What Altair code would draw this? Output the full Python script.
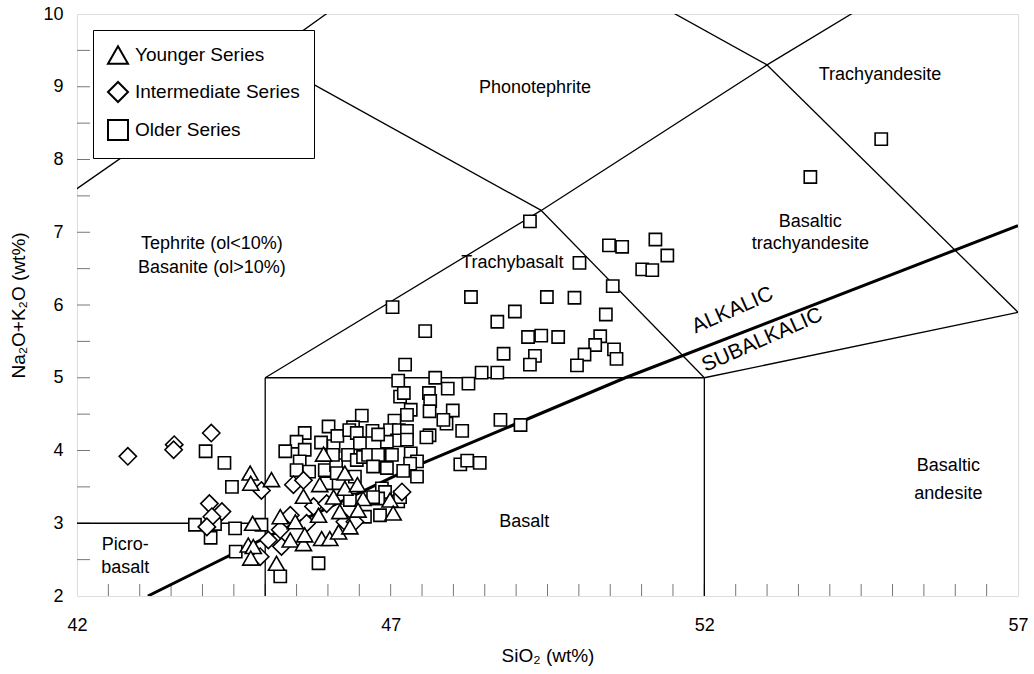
import altair as alt
import pandas as pd

FONT = "Liberation Sans"

# ---------------- sample data (SiO2 wt%, Na2O+K2O wt%) ----------------
older_sio2 = [
    54.82, 53.69, 49.22, 50.48, 50.69, 51.22, 51.41, 51.01, 51.17, 50.01, 50.54,
    47.03, 48.28, 49.49, 49.93, 48.98, 48.70, 50.43, 47.55, 49.19, 49.40, 49.67,
    50.34, 50.26, 50.09, 49.97, 50.56, 50.60, 48.80, 49.30, 49.22, 47.23, 47.12,
    47.71, 48.45, 48.70, 48.24, 47.91, 47.15, 47.21, 47.61, 47.63, 47.99, 47.62,
    47.32, 47.26, 47.89, 47.84, 48.14, 48.75, 49.07, 47.62, 47.57, 47.06, 46.99,
    47.13, 47.26, 47.10, 47.26, 46.94, 47.02, 47.32, 47.42, 47.31, 46.94, 47.20,
    48.11, 48.22, 48.42, 47.42,
    46.54, 46.01, 46.40, 45.63, 45.50, 45.32, 45.63, 45.89, 46.09, 46.15, 46.34,
    46.46, 46.51, 46.71, 46.80, 45.55, 45.50, 45.70, 45.95, 46.13, 46.08, 46.32,
    46.46, 46.56, 46.64, 46.80, 46.72, 45.98, 46.17, 46.43, 46.14, 46.86, 46.91,
    46.80, 47.12, 47.15, 46.83, 46.35, 46.59, 46.72, 45.85, 45.24,
    44.05, 44.35, 44.47, 43.88, 44.20, 44.52, 44.13, 44.53, 44.94,
]
older_alk = [
    8.28, 7.76, 7.15, 6.82, 6.80, 6.90, 6.68, 6.49, 6.48, 6.58, 6.26,
    5.97, 6.11, 6.11, 6.10, 5.91, 5.77, 5.87, 5.64, 5.56, 5.58, 5.56,
    5.57, 5.45, 5.32, 5.17, 5.39, 5.26, 5.33, 5.30, 5.18, 5.18, 4.96,
    5.00, 5.07, 5.07, 4.92, 4.85, 4.74, 4.79, 4.79, 4.68, 4.55, 4.54,
    4.56, 4.49, 4.37, 4.42, 4.27, 4.42, 4.35, 4.21, 4.18, 4.41, 4.28,
    4.28, 4.27, 4.14, 4.15, 4.12, 3.94, 3.96, 3.85, 3.82, 3.76, 3.72,
    3.81, 3.86, 3.83, 3.64,
    4.48, 4.33, 4.32, 4.24, 4.12, 3.99, 4.01, 4.11, 4.06, 4.20, 4.28,
    4.24, 4.10, 4.27, 4.22, 3.85, 3.73, 3.71, 3.73, 3.80, 3.94, 3.94,
    3.87, 3.91, 3.94, 3.94, 3.78, 3.55, 3.55, 3.64, 3.69, 3.48, 3.43,
    3.34, 3.30, 3.36, 3.11, 3.32, 3.09, 3.36, 2.45, 2.27,
    3.99, 3.83, 3.50, 2.98, 2.99, 2.93, 2.80, 2.61, 2.98,
]

inter_sio2 = [42.81, 43.55, 43.54, 44.14, 44.11, 44.31, 44.15, 44.07, 44.94, 45.45,
              44.92, 45.05, 45.61, 45.77, 47.18, 45.24, 45.26, 45.66, 46.27, 46.43,
              45.40, 45.98]
inter_alk = [3.92, 4.08, 4.01, 4.24, 3.27, 3.16, 3.09, 2.95, 3.45, 3.53,
             2.54, 2.77, 3.59, 3.23, 3.43, 2.91, 2.68, 3.00, 3.02, 3.02,
             3.11, 3.27]

young_sio2 = [44.76, 44.77, 45.10, 44.80, 44.73, 44.81, 44.77, 45.18, 45.93, 45.61,
              46.27, 45.87, 46.09, 46.27, 46.47, 46.56, 46.19, 46.48, 45.85, 46.99,
              47.04, 45.24, 45.48, 45.40, 45.61, 45.90, 46.03, 46.17, 46.35, 45.63]
young_alk = [3.69, 3.55, 3.60, 3.00, 2.70, 2.68, 2.52, 2.45, 3.95, 3.37,
             3.69, 3.53, 3.36, 3.48, 3.53, 3.34, 3.16, 3.18, 3.11, 3.32,
             3.14, 3.09, 3.02, 2.77, 2.72, 2.79, 2.79, 2.88, 2.95, 2.84]

series_names = ["Younger Series", "Intermediate Series", "Older Series"]
series_shapes = ["triangle-up", "diamond", "square"]
series_colors = ["black", "black", "black"]

# ---------------- TAS field boundaries ----------------
bnd_seg = ["a", "a", "b", "b", "c", "c", "d", "d", "e", "e",
           "f", "f", "f", "f", "g", "g", "h", "h", "i", "i", "i",
           "j", "j", "k", "k"]
bnd_x = [41, 45, 45, 45, 45, 52, 52, 52, 52, 57,
         45, 49.4, 53, 57.6, 49.4, 52, 53, 57, 41, 45, 48.4,
         45, 49.4, 48.4, 53]
bnd_y = [3, 3, 0, 5, 5, 5, 0, 5, 5, 5.9,
         5, 7.3, 9.3, 11.7, 7.3, 5, 9.3, 5.9, 7, 9.4, 11.5,
         9.4, 7.3, 11.5, 9.3]

# alkalic / subalkalic divide
alk_x = [43.13, 45.0, 47.36, 50.74, 57.0]
alk_y = [2.0, 2.8, 3.77, 5.0, 7.09]

# field names
lab_text = ["Phonotephrite", "Trachyandesite", "Basaltic", "trachyandesite",
            "Tephrite (ol<10%)", "Basanite (ol>10%)", "Trachybasalt", "Basalt",
            "Basaltic", "andesite", "Picro-", "basalt"]
lab_x = [49.30, 54.80, 53.69, 53.69, 44.15, 44.15, 48.94, 49.13, 55.89, 55.89, 42.77, 42.77]
lab_y = [8.98, 9.16, 7.14, 6.84, 6.84, 6.51, 6.58, 3.02, 3.79, 3.40, 2.70, 2.38]

div_text = ["ALKALIC", "SUBALKALIC"]
div_x = [52.49, 52.96]
div_y = [5.85, 5.44]

# inner minor ticks and axis labels
x_ticks = [42.5, 43, 43.5, 44, 44.5, 45, 45.5, 46, 46.5, 47, 47.5, 48, 48.5, 49, 49.5,
           50, 50.5, 51, 51.5, 52, 52.5, 53, 53.5, 54, 54.5, 55, 55.5, 56, 56.5]
y_ticks = [2.5, 3, 3.5, 4, 4.5, 5, 5.5, 6, 6.5, 7, 7.5, 8, 8.5, 9, 9.5]
x_labels = [42, 47, 52, 57]
y_labels = [2, 3, 4, 5, 6, 7, 8, 9, 10]

# ---------------- tables ----------------
older = pd.DataFrame({"x": older_sio2, "y": older_alk, "series": "Older Series"})
inter = pd.DataFrame({"x": inter_sio2, "y": inter_alk, "series": "Intermediate Series"})
young = pd.DataFrame({"x": young_sio2, "y": young_alk, "series": "Younger Series"})
bnd = pd.DataFrame({"seg": bnd_seg, "x": bnd_x, "y": bnd_y})
bnd["o"] = range(len(bnd))
alk = pd.DataFrame({"x": alk_x, "y": alk_y})
labs = pd.DataFrame({"text": lab_text, "x": lab_x, "y": lab_y})
divs = pd.DataFrame({"text": div_text, "x": div_x, "y": div_y})
xt = pd.DataFrame({"x": x_ticks})
yt = pd.DataFrame({"y": y_ticks})

W, H = 941, 582
xs = alt.Scale(domain=[42, 57], nice=False, zero=False)
ys = alt.Scale(domain=[2, 10], nice=False, zero=False)
xaxis = alt.Axis(values=x_labels, ticks=False, domain=False, grid=False, labelFlush=False,
                 labelFontSize=18, labelPadding=20, labelFont=FONT, labelColor="black",
                 title="SiO₂ (wt%)", titleFont=FONT, titleFontSize=19,
                 titleFontWeight="normal", titleColor="black", titlePadding=12)
yaxis = alt.Axis(values=y_labels, ticks=False, domain=False, grid=False, labelFlush=False,
                 labelFontSize=18, labelPadding=14, labelFont=FONT, labelColor="black",
                 title="Na₂O+K₂O (wt%)", titleFont=FONT, titleFontSize=19,
                 titleFontWeight="normal", titleColor="black", titlePadding=14)

X = lambda: alt.X("x:Q", scale=xs, axis=xaxis)
Y = lambda: alt.Y("y:Q", scale=ys, axis=yaxis)

lines = alt.Chart(bnd).mark_line(clip=True, color="black", strokeWidth=1.3).encode(
    x=X(), y=Y(), detail="seg:N", order="o:Q")
divide = alt.Chart(alk).mark_line(clip=True, color="black", strokeWidth=3).encode(x=X(), y=Y())

xtick = alt.Chart(xt).mark_rule(color="#777777", strokeWidth=1).encode(
    x=X(), y=alt.value(H), y2=alt.value(H - 12))
ytick = alt.Chart(yt).mark_rule(color="#777777", strokeWidth=1).encode(
    y=Y(), x=alt.value(0), x2=alt.value(13))

labels = alt.Chart(labs).mark_text(font=FONT, fontSize=18, color="black",
                                   align="center", baseline="middle").encode(
    x=X(), y=Y(), text="text:N")
divlab = alt.Chart(divs).mark_text(font=FONT, fontSize=21, color="black", angle=336,
                                   align="center", baseline="alphabetic").encode(
    x=X(), y=Y(), text="text:N")

shape_scale = alt.Scale(domain=series_names, range=series_shapes)
color_scale = alt.Scale(domain=series_names, range=series_colors)


def make_legend():
    return alt.Legend(
        title=None, orient="top-left", offset=16, zindex=1,
        fillColor="white", strokeColor="black", padding=14, labelLimit=300,
        labelFontSize=19, labelFont=FONT, labelColor="black",
        symbolSize=400, rowPadding=10, labelOffset=6,
        symbolFillColor="white", symbolStrokeColor="black", symbolStrokeWidth=2,
        symbolOpacity=1,
    )


def series_layer(df, size):
    return alt.Chart(df).mark_point(filled=False, fill="white", fillOpacity=1,
                                    strokeWidth=1.6, opacity=1, size=size).encode(
        x=X(), y=Y(),
        shape=alt.Shape("series:N", scale=shape_scale, legend=make_legend()),
        color=alt.Color("series:N", scale=color_scale, legend=make_legend()),
    )


p_old = series_layer(older, 150)
p_int = series_layer(inter, 300)
p_young = series_layer(young, 260)

chart = alt.layer(xtick, ytick, lines, divide, labels, divlab,
                  p_old, p_int, p_young).properties(
    width=W, height=H,
    autosize=alt.AutoSizeParams(type="none"),
    padding={"left": 77, "top": 14, "right": 16, "bottom": 78},
).configure_view(stroke="black", strokeWidth=1.5).configure(background="white")

chart.save("out.html", embed_options={"renderer": "svg", "actions": False})
